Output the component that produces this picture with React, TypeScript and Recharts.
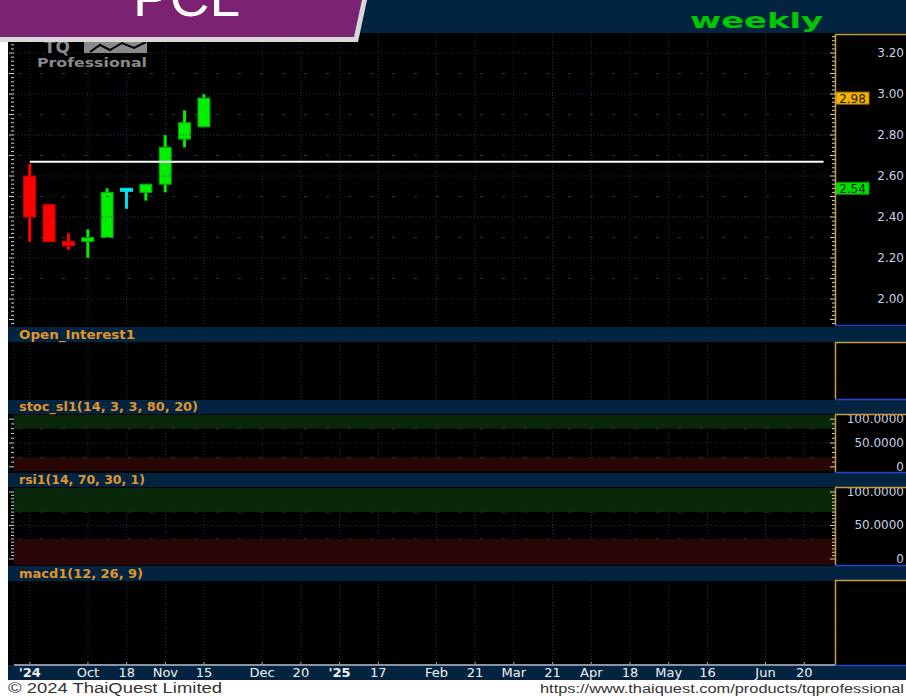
import React from 'react';
import {
  ComposedChart,
  Bar,
  XAxis,
  YAxis,
  CartesianGrid,
  ReferenceLine,
  ReferenceArea,
} from 'recharts';

// weekly candles, index 0 = week of 13 Sep 2024
const weekIdx = [0, 1, 2, 3, 4, 5, 6, 7, 8, 9];
const weekDates = ['13/09/24', '20/09/24', '27/09/24', '04/10/24', '11/10/24', '18/10/24', '25/10/24', '01/11/24', '08/11/24', '15/11/24'];
const opens = [2.6, 2.46, 2.28, 2.28, 2.3, 2.54, 2.52, 2.56, 2.78, 2.84];
const highs = [2.66, 2.46, 2.32, 2.34, 2.54, 2.54, 2.56, 2.8, 2.92, 3.0];
const lows = [2.28, 2.28, 2.24, 2.2, 2.3, 2.44, 2.48, 2.52, 2.74, 2.84];
const closes = [2.4, 2.28, 2.26, 2.3, 2.52, 2.54, 2.56, 2.74, 2.86, 2.98];

const xTicks = [0, 3, 5, 7, 9, 12, 14, 16, 18, 21, 23, 25, 27, 29, 31, 33, 35, 38, 40];
const xTickLabels = ["'24", 'Oct', '18', 'Nov', '15', 'Dec', '20', "'25", '17', 'Feb', '21', 'Mar', '21', 'Apr', '18', 'May', '16', 'Jun', '20'];
const yearTicks = ["'24", "'25"];

const priceTicks = [2.0, 2.2, 2.4, 2.6, 2.8, 3.0, 3.2];
const priceMidLevels = [2.1, 2.3, 2.5, 2.7, 2.9, 3.1];
const lastClose = 2.98;
const markerLevel = 2.54;
const hLineLevel = 2.67;
const hLineSpan = [0, 41];

const oscTicks = [0, 50, 100];
const stocBands = [20, 80];
const rsiBands = [30, 70];

const X_DOMAIN: [number, number] = [-0.82, 41.59];
const PRICE_DOMAIN: [number, number] = [1.873, 3.288];
const STOC_DOMAIN: [number, number] = [-8.7, 108.7];
const RSI_DOMAIN: [number, number] = [-9, 106];

const NAVY = '#032440';
const GRID = '#163650';
const GOLD = '#C89B3C';
const BLUE = '#2443D0';
const STRIP_TEXT = '#E0962A';
const FONT = 'DejaVu Sans, Verdana, sans-serif';

const candles = weekIdx.map((idx, i) => ({
  idx,
  date: weekDates[i],
  open: opens[i],
  high: highs[i],
  low: lows[i],
  close: closes[i],
  range: [lows[i], highs[i]],
}));

const steps = (from: number, to: number, step: number) => {
  const out: number[] = [];
  for (let v = from; v <= to + 1e-9; v += step) out.push(+v.toFixed(4));
  return out;
};
const priceMinor = steps(1.88, 3.28, 0.02);
const stocMinor = steps(0, 100, 10);
const rsiMinor = steps(0, 100, 5);

const Candle = (props: any) => {
  const { x, y, width, height, payload } = props;
  const { open, close, high, low } = payload;
  const top = Math.min(y, y + height);
  const h = Math.abs(height);
  const ppu = h / (high - low);
  const yOf = (v: number) => top + (high - v) * ppu;
  const cx = x + width / 2;
  let fill = '#00EE00';
  let edge = '#00A800';
  if (close < open) {
    fill = '#FF0000';
    edge = '#D00000';
  } else if (close === open) {
    fill = '#00E0EC';
    edge = '#00E0EC';
  }
  const bTop = yOf(Math.max(open, close));
  const bBot = yOf(Math.min(open, close));
  const bh = Math.max(bBot - bTop, 3);
  return (
    <g>
      <rect x={cx - 1.5} y={top} width={3} height={h} fill={fill} />
      <rect x={x + 0.5} y={bTop} width={width - 1} height={bh} fill={fill} stroke={edge} strokeWidth={1} />
    </g>
  );
};

const makeTick = (side: 'left' | 'right', majors: number[], labels: number[], fmt: (v: number) => string) =>
  (props: any) => {
    const { x, y, payload } = props;
    const v = payload.value;
    const isMajor = majors.some((m) => Math.abs(m - v) < 1e-6);
    const hasLabel = labels.some((m) => Math.abs(m - v) < 1e-6);
    const len = isMajor ? 5 : 3;
    return (
      <g>
        <line x1={x - len} x2={x} y1={y} y2={y} stroke="#CFCFCF" strokeWidth={1} />
        {side === 'right' && hasLabel && (
          <text x={x + 69} y={y + 4} textAnchor="end" fontSize={12} fontFamily={FONT} fill="#C6D0E4">
            {fmt(v)}
          </text>
        )}
      </g>
    );
  };

const PriceTag = ({ viewBox, value, fill, edge }: any) => {
  const x = viewBox.x + viewBox.width + 1;
  const y = viewBox.y;
  return (
    <g>
      <rect x={x} y={y - 6} width={33} height={12} fill={fill} stroke={edge} strokeWidth={1} />
      <text x={x + 16.5} y={y + 4.5} textAnchor="middle" fontSize={12} fontFamily={FONT} fill="#202020">
        {value.toFixed(2)}
      </text>
    </g>
  );
};

const XTick = (props: any) => {
  const { x, y, payload } = props;
  const i = xTicks.indexOf(payload.value);
  const label = xTickLabels[i] ?? '';
  const bold = yearTicks.includes(label);
  return (
    <g>
      <line x1={x} x2={x} y1={y - 3} y2={y} stroke="#9AA2B0" />
      <text x={x} y={y + 12} textAnchor="middle" fontSize={13} fontFamily={FONT} fill="#F2F2F2" fontWeight={bold ? 'bold' : 'normal'}>
        {label}
      </text>
    </g>
  );
};

const fmtPrice = (v: number) => v.toFixed(2);
const fmtOsc = (v: number) => (v === 0 ? '0' : v.toFixed(4));

const hiddenX = (
  <XAxis type="number" dataKey="idx" domain={X_DOMAIN} ticks={xTicks} allowDataOverflow hide />
);

const svgStyle = { overflow: 'visible' as const };

interface OscProps {
  top: number;
  height: number;
  domain: [number, number];
  minor: number[];
  bands: number[];
}

const OscPanel = ({ top, height, domain, minor, bands }: OscProps) => (
  <div style={{ position: 'absolute', left: 8, top }}>
    <ComposedChart width={898} height={height} data={candles} style={svgStyle} margin={{ top: 1, right: 0, bottom: 1, left: 0 }}>
      <ReferenceArea yAxisId="r" y1={bands[1]} y2={domain[1]} fill="#092709" fillOpacity={1} stroke="none" />
      <ReferenceArea yAxisId="r" y1={domain[0]} y2={bands[0]} fill="#280606" fillOpacity={1} stroke="none" />
      <CartesianGrid horizontal={false} stroke={GRID} strokeDasharray="1 2" />
      {hiddenX}
      <YAxis yAxisId="l" orientation="left" width={6} domain={domain} ticks={minor} interval={0} allowDataOverflow
        axisLine={false} tickLine={false} tickSize={0} tickMargin={0} tick={makeTick('left', oscTicks, [], fmtOsc)} />
      <YAxis yAxisId="r" orientation="right" width={71} domain={domain} ticks={minor} interval={0} allowDataOverflow
        axisLine={false} tickLine={false} tickSize={0} tickMargin={0} tick={makeTick('right', oscTicks, oscTicks, fmtOsc)} />
      <ReferenceLine yAxisId="r" y={50} stroke={GRID} strokeDasharray="1 2" />
      <ReferenceLine yAxisId="r" y={bands[0]} stroke={GRID} strokeDasharray="3 19" />
      <ReferenceLine yAxisId="r" y={bands[1]} stroke={GRID} strokeDasharray="3 19" />
    </ComposedChart>
  </div>
);

interface EmptyProps {
  top: number;
  height: number;
  withAxis?: boolean;
}

const EmptyPanel = ({ top, height, withAxis }: EmptyProps) => (
  <div style={{ position: 'absolute', left: 8, top }}>
    <ComposedChart width={898} height={height} data={candles} margin={{ top: 0, right: 0, bottom: 0, left: 0 }}>
      <CartesianGrid horizontal={false} stroke={GRID} strokeDasharray="1 2" />
      {withAxis ? (
        <XAxis type="number" dataKey="idx" domain={X_DOMAIN} ticks={xTicks} interval={0} allowDataOverflow height={15}
          axisLine={{ stroke: '#8C94A4', strokeWidth: 2 }} tickLine={false} tickSize={0} tickMargin={0} tick={<XTick />} />
      ) : hiddenX}
      <YAxis yAxisId="l" orientation="left" width={6} domain={[0, 1]} tick={false} axisLine={false} tickLine={false} />
      <YAxis yAxisId="r" orientation="right" width={71} domain={[0, 1]} tick={false} axisLine={false} tickLine={false} />
    </ComposedChart>
  </div>
);

const boxes = [
  [34, 325],
  [342, 399],
  [414, 472],
  [487, 565],
  [580, 665],
];

const strips = [
  { y: 327, h: 15, text: 'Open_Interest1', w: 116 },
  { y: 400, h: 14, text: 'stoc_sl1(14, 3, 3, 80, 20)', w: 179 },
  { y: 473, h: 14, text: 'rsi1(14, 70, 30, 1)', w: 126 },
  { y: 566, h: 15, text: 'macd1(12, 26, 9)', w: 124 },
];

const App = () => {
  return (
    <div style={{ position: 'fixed', left: 0, top: 0, width: 906, height: 696, overflow: 'hidden', background: '#000' }}>
      <svg width={906} height={696} style={{ position: 'absolute', left: 0, top: 0 }}>
        <rect x={0} y={0} width={906} height={696} fill="#000" />
        <rect x={0} y={0} width={906} height={33} fill={NAVY} />
        {strips.map((s) => (
          <g key={s.text}>
            <rect x={8} y={s.y} width={898} height={s.h} fill={NAVY} />
            <text x={19} y={s.y + s.h - 3} fontSize={12} fontWeight={600} fontFamily={FONT} fill={STRIP_TEXT}
              textLength={s.w} lengthAdjust="spacingAndGlyphs">
              {s.text}
            </text>
          </g>
        ))}
        <rect x={8} y={665} width={898} height={15} fill={NAVY} />
        <rect x={0} y={0} width={8} height={696} fill="#fff" />
        <rect x={0} y={680} width={906} height={16} fill="#fff" />
        <text x={8} y={693} fontSize={14} fontFamily="Liberation Sans, Arial, sans-serif" fill="#333"
          textLength={214} lengthAdjust="spacingAndGlyphs">
          © 2024 ThaiQuest Limited
        </text>
        <text x={540} y={693} fontSize={12.5} fontFamily="Liberation Sans, Arial, sans-serif" fill="#333"
          textLength={364} lengthAdjust="spacingAndGlyphs">
          https://www.thaiquest.com/products/tqprofessional
        </text>
      </svg>

      {/* price panel */}
      <div style={{ position: 'absolute', left: 8, top: 33 }}>
        <ComposedChart width={898} height={294} data={candles} style={svgStyle} margin={{ top: 2, right: 0, bottom: 2, left: 0 }}>
          <CartesianGrid horizontal={false} stroke={GRID} strokeDasharray="1 2" />
          {hiddenX}
          <YAxis yAxisId="l" orientation="left" width={6} domain={PRICE_DOMAIN} ticks={priceMinor} interval={0} allowDataOverflow
            axisLine={false} tickLine={false} tickSize={0} tickMargin={0}
            tick={makeTick('left', steps(1.9, 3.2, 0.1), [], fmtPrice)} />
          <YAxis yAxisId="r" orientation="right" width={71} domain={PRICE_DOMAIN} ticks={priceMinor} interval={0} allowDataOverflow
            axisLine={false} tickLine={false} tickSize={0} tickMargin={0}
            tick={makeTick('right', steps(1.9, 3.2, 0.1), priceTicks, fmtPrice)} />
          {priceTicks.map((v) => (
            <ReferenceLine key={'g' + v} yAxisId="r" y={v} stroke={GRID} strokeDasharray="1 2" />
          ))}
          {priceMidLevels.map((v) => (
            <ReferenceLine key={'m' + v} yAxisId="r" y={v} stroke={GRID} strokeDasharray="3 19" />
          ))}
          <ReferenceLine yAxisId="r" stroke="#FFFFFF" strokeWidth={2}
            segment={[{ x: hLineSpan[0], y: hLineLevel }, { x: hLineSpan[1], y: hLineLevel }]} />
          <Bar yAxisId="r" dataKey="range" barSize={13} isAnimationActive={false}
            shape={(p: any) => <Candle {...p} />} />
          <ReferenceLine yAxisId="r" y={lastClose} stroke="none"
            label={(p: any) => <PriceTag {...p} value={lastClose} fill="#F5B400" edge="#A87800" />} />
          <ReferenceLine yAxisId="r" y={markerLevel} stroke="none"
            label={(p: any) => <PriceTag {...p} value={markerLevel} fill="#00E000" edge="#009000" />} />
        </ComposedChart>
      </div>

      <EmptyPanel top={342} height={58} />
      <OscPanel top={414} height={58} domain={STOC_DOMAIN} minor={stocMinor} bands={stocBands} />
      <OscPanel top={487} height={79} domain={RSI_DOMAIN} minor={rsiMinor} bands={rsiBands} />
      <EmptyPanel top={581} height={99} withAxis />

      <svg width={906} height={696} style={{ position: 'absolute', left: 0, top: 0, pointerEvents: 'none' }}>
        {boxes.map(([t, b]) => (
          <g key={t}>
            <line x1={835.5} x2={835.5} y1={t} y2={b} stroke={GOLD} strokeWidth={1.5} />
            <line x1={835} x2={906} y1={t + 0.5} y2={t + 0.5} stroke={GOLD} strokeWidth={1.5} />
            <line x1={835} x2={906} y1={b + 0.5} y2={b + 0.5} stroke={BLUE} strokeWidth={1.5} />
          </g>
        ))}
        {/* logo watermark */}
        <text x={44} y={53} fontSize={17} fontWeight="bold" fontFamily={FONT} fill="#8A8A8A">TQ</text>
        <rect x={84} y={40} width={63} height={13} fill="#8A8A8A" />
        <polyline points="90,52 100,45 110,50 122,43 134,48 146,42" fill="none" stroke="#000" strokeWidth={2} />
        <text x={37} y={67} fontSize={12} fontWeight="bold" fontFamily={FONT} fill="#8A8A8A"
          textLength={110} lengthAdjust="spacingAndGlyphs">
          Professional
        </text>
        {/* title banner */}
        <polygon points="0,0 367,0 358,42 0,42" fill="#D8D8D8" />
        <polygon points="0,0 362,0 354,37 0,37" fill="#7B2372" />
        <text x={133} y={16} fontSize={54} fontFamily="Liberation Sans, Arial, sans-serif" fill="#FFFFFF"
          textLength={107} lengthAdjust="spacingAndGlyphs">
          PCL
        </text>
        <text x={690} y={28} fontSize={22} fontWeight="bold" fontFamily={FONT} fill="#00C800"
          textLength={133} lengthAdjust="spacingAndGlyphs">
          weekly
        </text>
      </svg>
    </div>
  );
};

export default App;
